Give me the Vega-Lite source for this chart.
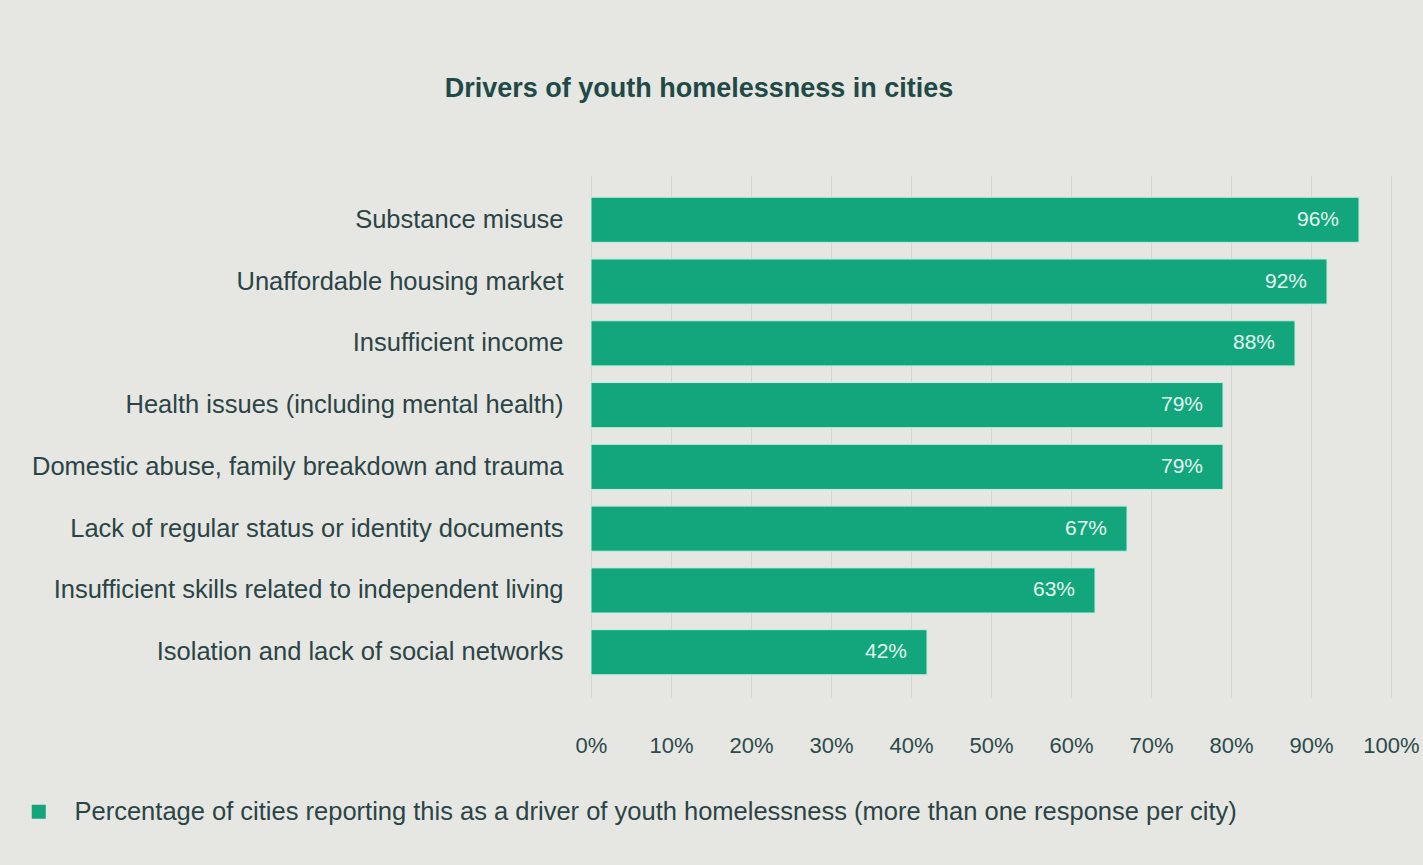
{
  "$schema": "https://vega.github.io/schema/vega-lite/v6.json",
  "autosize": {"type": "none"},
  "width": 800,
  "height": 522,
  "padding": {"left": 591, "top": 175, "right": 32, "bottom": 168},
  "background": "#e6e6e2",
  "config": {
    "view": {"stroke": null},
    "font": "Liberation Sans"
  },
  "title": {
    "text": "Drivers of youth homelessness in cities",
    "fontSize": 27,
    "fontWeight": "bold",
    "color": "#1f4a46",
    "anchor": "middle",
    "frame": "group",
    "dx": -292,
    "offset": 72
  },
  "data": {
    "values": [
      {"driver": "Substance misuse", "pct": 96},
      {"driver": "Unaffordable housing market", "pct": 92},
      {"driver": "Insufficient income", "pct": 88},
      {"driver": "Health issues (including mental health)", "pct": 79},
      {"driver": "Domestic abuse, family breakdown and trauma", "pct": 79},
      {"driver": "Lack of regular status or identity documents", "pct": 67},
      {"driver": "Insufficient skills related to independent living", "pct": 63},
      {"driver": "Isolation and lack of social networks", "pct": 42}
    ]
  },
  "encoding": {
    "y": {
      "field": "driver",
      "type": "nominal",
      "sort": null,
      "scale": {"paddingInner": 0.27, "paddingOuter": 0.36},
      "axis": {
        "title": null,
        "ticks": false,
        "domain": false,
        "grid": false,
        "labelPadding": 28,
        "labelFontSize": 25.5,
        "labelColor": "#2b4446",
        "labelLimit": 700
      }
    },
    "x": {
      "field": "pct",
      "type": "quantitative",
      "scale": {"domain": [0, 100], "nice": false},
      "axis": {
        "title": null,
        "values": [0, 10, 20, 30, 40, 50, 60, 70, 80, 90, 100],
        "labelExpr": "datum.value + '%'",
        "ticks": false,
        "domain": false,
        "grid": true,
        "gridColor": "#d6d6d2",
        "gridWidth": 1,
        "labelPadding": 38,
        "labelFontSize": 22,
        "labelColor": "#2b4a4a",
        "labelFlush": false
      }
    }
  },
  "layer": [
    {
      "mark": {"type": "bar", "stroke": "#bff0de", "strokeWidth": 1},
      "encoding": {
        "color": {
          "datum": "Percentage of cities reporting this as a driver of youth homelessness (more than one response per city)",
          "type": "nominal",
          "scale": {"range": ["#13a67d"]},
          "legend": {
            "title": null,
            "orient": "none",
            "legendX": -565,
            "legendY": 624,
            "symbolType": "square",
            "symbolSize": 196,
            "symbolStrokeWidth": 0,
            "labelFontSize": 25.5,
            "labelColor": "#2b4446",
            "labelOffset": 23,
            "labelLimit": 1340
          }
        }
      }
    },
    {
      "transform": [{"calculate": "datum.pct + '%'", "as": "lab"}],
      "mark": {"type": "text", "align": "right", "dx": -20, "fontSize": 21, "color": "#e3f6ef", "baseline": "middle"},
      "encoding": {
        "text": {"field": "lab", "type": "nominal"}
      }
    }
  ]
}
